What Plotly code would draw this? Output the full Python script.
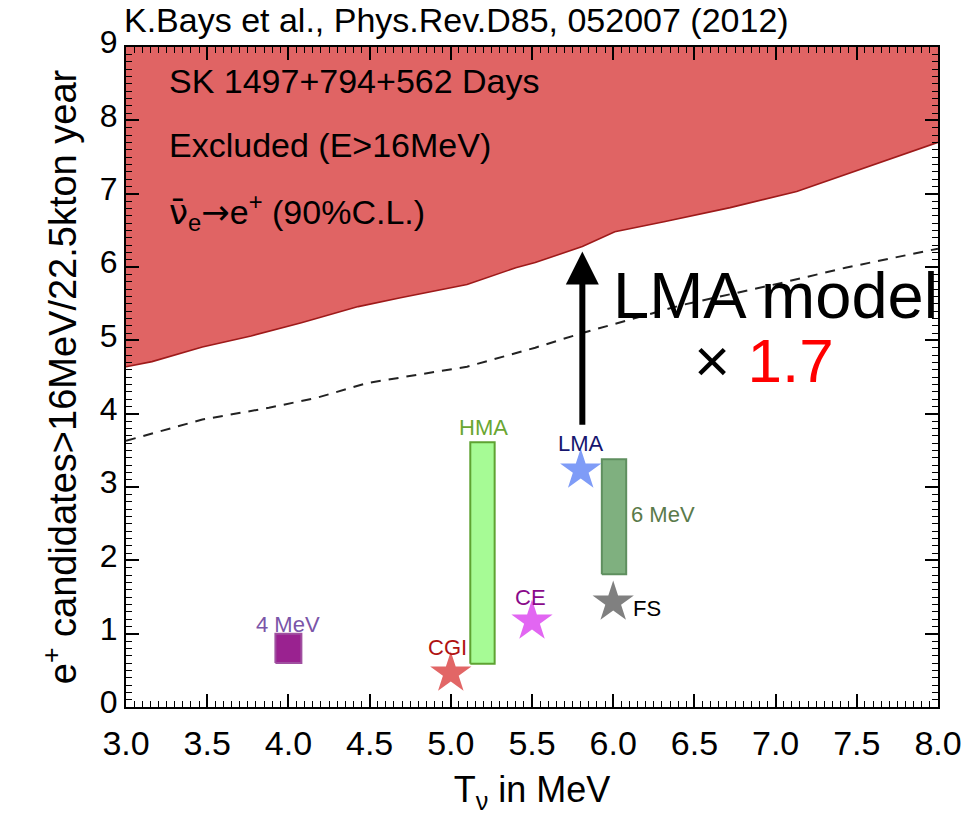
import plotly.graph_objects as go

# 90% C.L. exclusion boundary (region above is excluded)
limit_x = [3.0, 3.16, 3.47, 3.77, 4.08, 4.43, 4.69, 5.10, 5.40, 5.52, 5.81, 6.01, 6.32, 6.72, 7.13, 7.43, 7.74, 8.0]
limit_y = [4.64, 4.71, 4.91, 5.06, 5.24, 5.46, 5.58, 5.76, 5.99, 6.06, 6.28, 6.48, 6.62, 6.81, 7.03, 7.26, 7.49, 7.70]

# dashed curve
dash_x = [3.0, 3.47, 3.88, 4.18, 4.49, 4.79, 5.10, 5.52, 5.81, 6.42, 7.03, 7.43, 8.0]
dash_y = [3.63, 3.92, 4.08, 4.22, 4.42, 4.53, 4.64, 4.90, 5.10, 5.48, 5.78, 5.99, 6.25]

# model predictions shown as stars
star_names = ["CGI", "CE", "LMA", "FS"]
star_x = [5.0, 5.5, 5.8, 6.0]
star_y = [0.46, 1.17, 3.23, 1.43]
star_colors = ["#e26666", "#e266f2", "#7f9cf7", "#808080"]

# model predictions shown as ranges (boxes)
box_names = ["4 MeV", "HMA", "6 MeV"]
box_x = [4.0, 5.195, 6.005]
box_w = [0.16, 0.15, 0.15]
box_low = [0.60, 0.59, 1.81]
box_high = [1.00, 3.61, 3.38]
box_fill = ["#9a2290", "#a6fb95", "#7fb07f"]
box_line = ["#a050a0", "#5ea332", "#5f8f5f"]

TEXT_FONT = "Liberation Sans, Arial, Helvetica, sans-serif"

fig = go.Figure()

# top edge of the excluded band
fig.add_trace(go.Scatter(x=[limit_x[0], limit_x[-1]], y=[9, 9], mode="lines",
                         line=dict(width=0, color="#e06464"), showlegend=False, hoverinfo="skip"))
fig.add_trace(go.Scatter(x=limit_x, y=limit_y, mode="lines", fill="tonexty",
                         fillcolor="#e06464", line=dict(color="#9e1a1a", width=1.6),
                         showlegend=False))

fig.add_trace(go.Scatter(x=dash_x, y=dash_y, mode="lines",
                         line=dict(color="#222222", width=2, dash="10px,8px"),
                         showlegend=False))

for name, cx, w, lo, hi, fc, lc in zip(box_names, box_x, box_w, box_low, box_high, box_fill, box_line):
    x0, x1 = cx - w / 2, cx + w / 2
    fig.add_trace(go.Scatter(x=[x0, x1, x1, x0, x0], y=[lo, lo, hi, hi, lo], mode="lines",
                             fill="toself", fillcolor=fc, line=dict(color=lc, width=2),
                             name=name, showlegend=False))

fig.add_trace(go.Scatter(x=star_x, y=star_y, mode="markers",
                         marker=dict(symbol="star", size=31, color=star_colors, line=dict(width=0)),
                         showlegend=False))

# model labels
label_specs = [
    ("4 MeV", 4.0, 1.12, "#7a55a8", "center"),
    ("CGI", 4.98, 0.81, "#b01212", "center"),
    ("HMA", 5.20, 3.81, "#6aa632", "center"),
    ("LMA", 5.80, 3.60, "#16166e", "center"),
    ("6 MeV", 6.10, 2.62, "#5a7a4a", "left"),
    ("CE", 5.49, 1.50, "#8a0a8a", "center"),
    ("FS", 6.11, 1.34, "#000000", "left"),
]
for txt, lx, ly, col, anchor in label_specs:
    fig.add_annotation(x=lx, y=ly, text=txt, showarrow=False, xanchor=anchor,
                       font=dict(size=22, color=col, family=TEXT_FONT))

# in-plot legend text
nu_bar = "<span style='font-family:DejaVu Sans'>ν\u0304</span><sub>e</sub>"
arrow = "<span style='font-family:DejaVu Sans'>→</span>"
for txt, ly in [("SK 1497+794+562 Days", 8.53),
                ("Excluded (E&gt;16MeV)", 7.67),
                (nu_bar + arrow + "e<sup>+</sup> (90%C.L.)", 6.75)]:
    fig.add_annotation(x=3.25, y=ly, text=txt, showarrow=False, xanchor="left",
                       font=dict(size=34, color="black", family=TEXT_FONT))

# LMA scaling arrow
fig.add_annotation(x=5.81, y=6.21, ax=5.81, ay=3.83, axref="x", ayref="y", xref="x", yref="y",
                   text="", showarrow=True, arrowhead=2, arrowsize=1.1, arrowwidth=6,
                   arrowcolor="black", standoff=0)
fig.add_annotation(x=7.0, y=5.61, text="LMA model", showarrow=False,
                   font=dict(size=65, color="black", family=TEXT_FONT))
fig.add_annotation(x=6.93, y=4.73, text="× <span style='color:#ff0000'>1.7</span>", showarrow=False,
                   font=dict(size=62, color="black", family=TEXT_FONT))

# reference line above the frame
fig.add_annotation(xref="paper", yref="paper", x=-0.005, y=1.041, xanchor="left", yanchor="middle",
                   text="K.Bays et al., Phys.Rev.D85, 052007 (2012)", showarrow=False,
                   font=dict(size=34, color="black", family=TEXT_FONT))

axis_common = dict(showline=True, linecolor="black", linewidth=2, mirror="allticks",
                   ticks="inside", tickcolor="black", tickwidth=1.5, ticklen=13,
                   showgrid=False, zeroline=False)

fig.update_xaxes(range=[3.0, 8.0], tick0=3.0, dtick=0.5, tickformat=".1f",
                 minor=dict(dtick=0.05, ticks="inside", ticklen=6, tickcolor="black", tickwidth=1),
                 tickfont=dict(size=34, color="black", family=TEXT_FONT), ticklabelstandoff=5,
                 title=dict(text="T<sub>ν</sub> in MeV", font=dict(size=36, color="black", family=TEXT_FONT),
                            standoff=16),
                 **axis_common)
fig.update_yaxes(range=[0, 9], tick0=0, dtick=1,
                 minor=dict(dtick=0.1, ticks="inside", ticklen=6, tickcolor="black", tickwidth=1),
                 tickfont=dict(size=32, color="black", family=TEXT_FONT), ticklabelshift=-5,
                 title=dict(text="e<sup>+</sup> candidates&gt;16MeV/22.5kton year",
                            font=dict(size=38, color="black", family=TEXT_FONT), standoff=12),
                 **axis_common)

fig.update_layout(width=974, height=826, paper_bgcolor="white", plot_bgcolor="white",
                  margin=dict(l=126, r=27, t=47, b=119), showlegend=False)

fig.write_html("out.html")
